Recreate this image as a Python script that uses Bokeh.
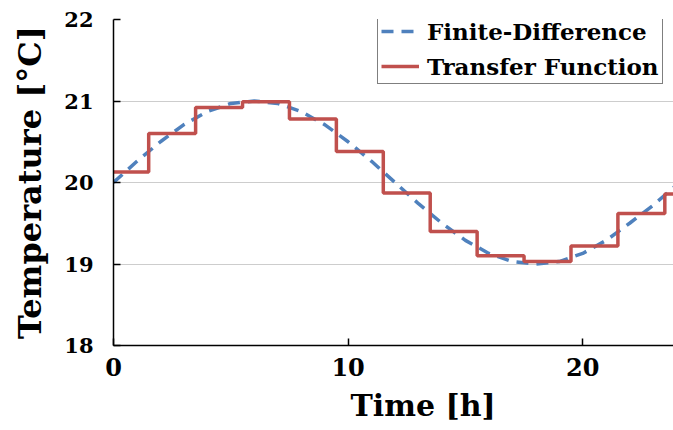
from bokeh.plotting import figure
from bokeh.models import Range1d, FixedTicker, Legend, LegendItem, Title
from bokeh.embed import file_html
from bokeh.resources import INLINE

# Finite-Difference (hourly readings)
fd_time = [0, 1, 2, 3, 4, 5, 6, 7, 8, 9, 10, 11, 12, 13, 14, 15, 16, 17, 18, 19, 20, 21, 22, 23, 24]
fd_temp = [20.00, 20.26, 20.50, 20.71, 20.87, 20.97, 21.00, 20.97, 20.87, 20.71, 20.50, 20.26,
           20.00, 19.74, 19.50, 19.29, 19.13, 19.03, 19.00, 19.03, 19.13, 19.29, 19.50, 19.72, 19.97]

# Transfer Function (step held after each time)
tf_time = [0, 1.5, 3.5, 5.5, 7.5, 9.5, 11.5, 13.5, 15.5, 17.5, 19.5, 21.5, 23.5, 24]
tf_temp = [20.13, 20.60, 20.92, 20.99, 20.78, 20.38, 19.87, 19.40, 19.10, 19.03, 19.22, 19.62, 19.86, 19.86]

x_ticks = [0, 10, 20]
y_ticks = [18, 19, 20, 21, 22]

FONT = "DejaVu Serif"
BLUE = "#4F81BD"
RED = "#C0504D"

p = figure(width=673, height=430, output_backend="svg", toolbar_location=None,
           x_range=Range1d(0, 23.87), y_range=Range1d(18, 22),
           min_border_left=113, min_border_right=0, min_border_top=19, min_border_bottom=85)
p.outline_line_color = None
p.background_fill_color = "white"
p.border_fill_color = "white"

fd = p.line(fd_time, fd_temp, line_color=BLUE, line_width=3.5, line_dash="12 8")
tf = p.step(tf_time, tf_temp, mode="after", line_color=RED, line_width=3.5)

# grids
p.xgrid.visible = False
p.ygrid.ticker = FixedTicker(ticks=y_ticks)
p.ygrid.grid_line_color = "#9a9a9a"
p.ygrid.grid_line_dash = "1 1"
p.ygrid.grid_line_width = 1

# axes
for ax in (p.xaxis[0], p.yaxis[0]):
    ax.axis_line_color = "black"
    ax.axis_line_width = 1.5
    ax.major_tick_in = 7
    ax.major_tick_out = 0
    ax.major_tick_line_color = "black"
    ax.major_tick_line_width = 1.5
    ax.minor_tick_line_color = None
    ax.major_label_text_font = FONT
    ax.major_label_text_font_style = "bold"
    ax.major_label_text_color = "black"
    ax.axis_label_text_font = FONT
    ax.axis_label_text_font_style = "bold"
    ax.axis_label_text_color = "black"

p.xaxis[0].ticker = FixedTicker(ticks=x_ticks)
p.yaxis[0].ticker = FixedTicker(ticks=y_ticks)
p.xaxis[0].major_label_text_font_size = "24px"
p.yaxis[0].major_label_text_font_size = "21px"
p.xaxis[0].major_label_standoff = 12
p.yaxis[0].major_label_standoff = 20

p.yaxis[0].axis_label = "Temperature [°C]"
p.yaxis[0].axis_label_text_font_size = "32px"
p.yaxis[0].axis_label_standoff = 12

xtitle = Title(text="Time [h]", align="left", offset=237, standoff=15,
               text_font=FONT, text_font_style="bold", text_font_size="30px",
               text_color="black")
p.add_layout(xtitle, "below")

legend = Legend(items=[LegendItem(label="Finite-Difference", renderers=[fd]),
                       LegendItem(label="Transfer Function", renderers=[tf])],
                location=(264, 261))
legend.label_text_font = FONT
legend.label_text_font_style = "bold"
legend.label_text_font_size = "23px"
legend.label_text_color = "black"
legend.glyph_width = 38
legend.glyph_height = 28
legend.label_height = 28
legend.label_standoff = 8
legend.spacing = 7
legend.padding = 3
legend.margin = 0
legend.border_line_color = "black"
legend.border_line_width = 1.5
legend.background_fill_color = "white"
legend.background_fill_alpha = 1
p.add_layout(legend)

open("out.html", "w").write(file_html(p, INLINE))
